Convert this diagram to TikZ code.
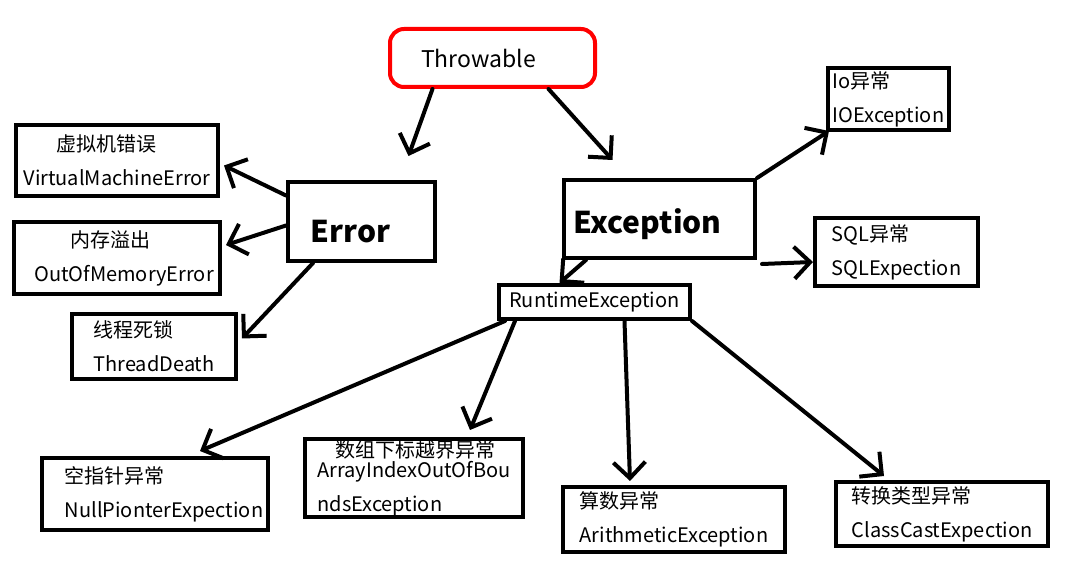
\documentclass[tikz,border=0pt]{standalone}
\usepackage{fontspec}
\setmainfont{Noto Sans CJK SC}
\usetikzlibrary{arrows.meta}

\begin{document}
\begin{tikzpicture}[x=1pt, y=-1pt,
   box/.style = {rectangle, draw, line width=4pt, align=left,
                 inner sep=0pt, font=\fontsize{20}{34}\selectfont},
  head/.style = {box, font=\fontsize{30}{36}\selectfont\bfseries},
  link/.style = {line width=4pt, line cap=round, line join=round,
                 -{Straight Barb[length=16pt, width=32pt]}},
                        ]
\useasboundingbox (0,0) rectangle (1072,561);
% root
\node[box, draw=red, rounded corners=14pt,
      minimum width=205pt, minimum height=58pt,
      font=\fontsize{23}{26}\selectfont]   (thr) at (492.5,58) {Throwable\hspace*{28pt}};
% Error side
\node[head, minimum width=147pt, minimum height=79pt]  (err) at (361.5,221.5)
     {\raisebox{-10pt}[\height][\depth]{Error}\hspace*{22pt}};
\node[box, minimum width=202pt, minimum height=71pt]   (vme) at (117,160.5)
     {\hspace*{33pt}虚拟机错误\\VirtualMachineError};
\node[box, minimum width=206pt, minimum height=72pt]   (oom) at (117,258)
     {\hspace*{50pt}内存溢出\\\hspace*{14pt}OutOfMemoryError};
\node[box, minimum width=164pt, minimum height=65pt]   (td)  at (154,346.5)
     {线程死锁\\ThreadDeath};
% Exception side
\node[head, minimum width=191pt, minimum height=78pt]  (exc) at (659.5,219)
     {\raisebox{-5pt}[\height][\depth]{Exception}\hspace*{24pt}};
\node[box, minimum width=121pt, minimum height=62pt]   (ioe) at (888.5,99)
     {Io异常\\IOException};
\node[box, minimum width=163pt, minimum height=68pt]   (sqle) at (896.5,252)
     {SQL异常\\SQLExpection};
\node[box, minimum width=191pt, minimum height=34pt]   (rte) at (594.5,302)
     {RuntimeException};
% runtime exceptions
\node[box, minimum width=226pt, minimum height=72pt]   (npe) at (155,494)
     {\hspace*{18pt}空指针异常\\\hspace*{18pt}NullPionterExpection};
\node[box, minimum width=218pt, minimum height=78pt]   (aie) at (414,478)
     {\hspace*{18pt}数组下标越界异常\\[-14pt]ArrayIndexOutOfBou\\ndsException};
\node[box, minimum width=222pt, minimum height=65pt]   (ari) at (674,519.5)
     {算数异常\\ArithmeticException};
\node[box, minimum width=212pt, minimum height=64pt]   (cce) at (942,514)
     {转换类型异常\\ClassCastExpection};
% arrows
\draw[link] ([xshift=-60pt]thr.south) -- ([xshift=47pt,yshift=24pt]err.north);
\draw[link] ([xshift=56pt]thr.south)  -- ([xshift=-47pt,yshift=18pt]exc.north);
\draw[link] ([yshift=26pt]err.west)   -- ([xshift=4pt,yshift=-5pt]vme.east);
\draw[link] ([yshift=-4pt]err.west)   -- ([xshift=4pt,yshift=13pt]oom.east);
\draw[link] ([xshift=27pt]err.south west) -- ([xshift=4pt,yshift=8pt]td.east);
\draw[link] (exc.north east) -- ([xshift=3pt,yshift=1pt]ioe.south west);
\draw[link] ([xshift=5pt,yshift=-4pt]exc.south east) -- ([yshift=-10pt]sqle.west);
\draw[link] ([xshift=24pt]exc.south west) -- ([xshift=-35pt]rte.north);
\draw[link] ([xshift=8pt]rte.south west)  -- ([xshift=45pt,yshift=5pt]npe.north);
\draw[link] ([xshift=18pt]rte.south west) -- ([xshift=56pt,yshift=7pt]aie.north);
\draw[link] ([xshift=30pt]rte.south)      -- ([xshift=-44pt,yshift=4pt]ari.north);
\draw[link] (rte.south east) -- ([xshift=-58pt,yshift=4pt]cce.north);
\end{tikzpicture}
\end{document}
